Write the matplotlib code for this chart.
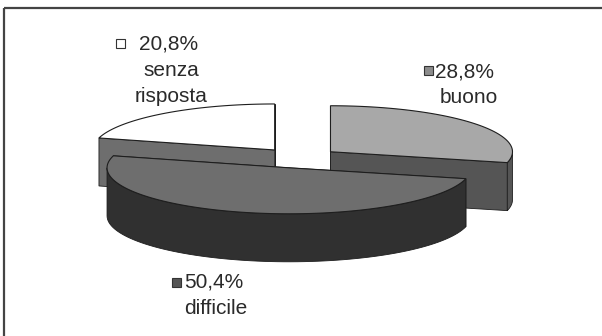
#!/usr/bin/env python3
"""Exploded 3D pie of answers: buono / difficile / senza risposta."""

import matplotlib

matplotlib.use("Agg")

import matplotlib.pyplot as plt
import numpy as np
from matplotlib.patches import Polygon, Rectangle

# data
LABELS = ["buono", "difficile", "senza\nrisposta"]
SHARES = [28.8, 50.4, 20.8]

TOP_COLORS = ["#a8a8a8", "#6e6e6e", "#ffffff"]
SIDE_COLORS = ["#555555", "#303030", "#6e6e6e"]
KEY_COLORS = ["#8c8c8c", "#555555", "#ffffff"]
EDGE = "#1e1e1e"

# pie geometry in pixels
W, H = 602, 336
CX, CY = 299.0, 158.0
RX, RY = 182.0, 46.0
DEPTH = 48.0
EXPLODE = 0.22

# label anchors: (square x, square y, percent x, text x, first baseline)
LABEL_POS = [(428, 70, 435, 469, 77), (176, 282, 184, 216, 288), (120, 43, 139, 171, 50)]
LINE_STEP = 26


def rim(cx, cy, theta):
    t = np.radians(theta)
    return np.column_stack([cx + RX * np.sin(t), cy - RY * np.cos(t)])


def draw_slice(ax, cx, cy, a0, a1, top, side):
    down = np.array([0.0, DEPTH])
    c = np.array([[cx, cy]])

    # radial cut faces
    for a in (a0, a1):
        p = rim(cx, cy, np.array([a]))
        face = np.vstack([c, p, p + down, c + down])
        ax.add_patch(Polygon(face, closed=True, fc=side, ec=EDGE, lw=0.6, zorder=2))

    # front part of the outer wall
    lo, hi = max(a0, 90.0), min(a1, 270.0)
    if hi > lo:
        arc = rim(cx, cy, np.linspace(lo, hi, 80))
        wall = np.vstack([arc, (arc + down)[::-1]])
        ax.add_patch(Polygon(wall, closed=True, fc=side, ec=EDGE, lw=0.6, zorder=2))

    arc = rim(cx, cy, np.linspace(a0, a1, 120))
    ax.add_patch(Polygon(np.vstack([c, arc]), closed=True, fc=top, ec=EDGE, lw=0.8, zorder=2))


def main():
    plt.rcParams["font.family"] = ["Liberation Sans", "DejaVu Sans"]
    fig = plt.figure(figsize=(W / 100, H / 100), dpi=100)
    ax = fig.add_axes([0, 0, 1, 1])
    ax.set_xlim(0, W)
    ax.set_ylim(H, 0)
    ax.axis("off")

    # frame lines on top and left
    ax.plot([4, W], [8, 8], color="#444444", lw=1.6, solid_capstyle="butt")
    ax.plot([4, 4], [8, H], color="#444444", lw=1.6, solid_capstyle="butt")

    shares = np.array(SHARES)
    bounds = np.concatenate([[0.0], np.cumsum(shares) / shares.sum() * 360.0])
    slices = []
    for i in range(len(shares)):
        a0, a1 = bounds[i], bounds[i + 1]
        mid = np.radians((a0 + a1) / 2)
        cx = CX + EXPLODE * RX * np.sin(mid)
        cy = CY - EXPLODE * RY * np.cos(mid)
        slices.append((cy, cx, a0, a1, i))

    # paint back slices first
    for cy, cx, a0, a1, i in sorted(slices):
        draw_slice(ax, cx, cy, a0, a1, TOP_COLORS[i], SIDE_COLORS[i])

    for i, (sx, sy, px, tx, ty) in enumerate(LABEL_POS):
        ax.add_patch(Rectangle((sx - 4.5, sy - 4.5), 9, 9, fc=KEY_COLORS[i], ec="#333333", lw=0.8, zorder=3))
        pct = f"{SHARES[i]:.1f}%".replace(".", ",")
        ax.text(px, ty, pct, ha="left", va="baseline", fontsize=15, color="#2a2a2a", zorder=4)
        for k, line in enumerate(LABELS[i].split("\n"), start=1):
            ax.text(tx, ty + k * LINE_STEP, line, ha="center", va="baseline", fontsize=15, color="#2a2a2a", zorder=4)

    fig.savefig("out.png", dpi=100, facecolor="white")
    plt.close(fig)


if __name__ == "__main__":
    main()
